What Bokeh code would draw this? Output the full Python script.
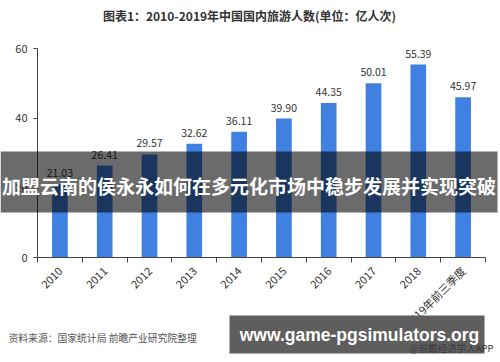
import math
from bokeh.plotting import figure
from bokeh.models import (Range1d, FixedTicker, ColumnDataSource, LabelSet, Label,
                          BoxAnnotation)
from bokeh.core.properties import value
from bokeh.embed import file_html
from bokeh.resources import INLINE

# ---- data ----
categories = ["2010", "2011", "2012", "2013", "2014", "2015", "2016", "2017", "2018", "2019年前三季度"]
values = [21.03, 26.41, 29.57, 32.62, 36.11, 39.90, 44.35, 50.01, 55.39, 45.97]
y_ticks = [0, 20, 40, 60]
title_text = "图表1：2010-2019年中国国内旅游人数(单位：亿人次)"
banner_text = "加盟云南的侯永永如何在多元化市场中稳步发展并实现突破"
source_text = "资料来源：国家统计局 前瞻产业研究院整理"
site_text = "www.game-pgsimulators.org"
mark_text = "@前瞻经济学人APP"

# ---- layout (plot area in pixels) ----
W, H = 500, 362
L, R, T, B = 37, 15, 48, 105
FW, FH = W - L - R, H - T - B
N = len(categories)
YMAX = 60

def fx(px):
    return 0.5 + (px - L) * N / FW

def fy(py):
    return (H - B - py) * YMAX / FH

CJK = "Noto Sans CJK SC"

xs = list(range(1, N + 1))
src = ColumnDataSource(dict(x=xs, v=values, lbl=["%.2f" % v for v in values]))

p = figure(width=W, height=H, x_range=Range1d(fx(0), fx(W)), y_range=Range1d(fy(H), fy(0)),
           output_backend="svg", toolbar_location=None,
           min_border_left=0, min_border_right=0, min_border_top=0, min_border_bottom=0)
p.outline_line_color = None
p.grid.visible = False
p.background_fill_color = "white"
p.border_fill_color = "white"

p.vbar(x="x", top="v", width=0.35, source=src, fill_color="#3f80e0", line_color=None)

p.add_layout(LabelSet(x="x", y="v", text="lbl", source=src, text_align="center",
                      text_baseline="bottom", y_offset=7, text_font=value(CJK),
                      text_font_size="10.5px", text_color="#333333"))

# axes (placed at fixed positions inside the canvas)
xa = p.xaxis[0]
xa.fixed_location = 0
xa.bounds = (0.5, N + 0.5)
xa.ticker = FixedTicker(ticks=xs, minor_ticks=[i + 0.5 for i in range(0, N + 1)])
xa.major_label_overrides = {x: c for x, c in zip(xs, categories)}
xa.major_tick_out = 0
xa.major_tick_in = 0
xa.minor_tick_out = 5
xa.minor_tick_in = 0
xa.minor_tick_line_color = "#444444"
xa.axis_line_color = "#444444"
xa.major_label_orientation = math.pi / 4
xa.major_label_text_font = CJK
xa.major_label_text_font_size = "11px"
xa.major_label_text_color = "#333333"
xa.major_label_standoff = 6

ya = p.yaxis[0]
ya.fixed_location = 0.5
ya.bounds = (0, YMAX)
ya.ticker = FixedTicker(ticks=y_ticks)
ya.minor_tick_line_color = None
ya.major_tick_out = 4
ya.major_tick_in = 0
ya.major_tick_line_color = "#444444"
ya.axis_line_color = "#444444"
ya.major_label_text_font = CJK
ya.major_label_text_font_size = "11px"
ya.major_label_text_color = "#333333"
ya.major_label_standoff = 6

# title
p.add_layout(Label(x=fx(249), y=fy(15), text=title_text, text_align="center",
                   text_baseline="middle", text_font=CJK, text_font_size="12px",
                   text_font_style="bold", text_color="#333333"))

# source
p.add_layout(Label(x=fx(8), y=fy(337), text=source_text, text_align="left",
                   text_baseline="middle", text_font=CJK, text_font_size="9.8px",
                   text_color="#555555"))

# overlay banner
p.add_layout(BoxAnnotation(left=fx(0), right=fx(497), top=fy(151), bottom=fy(212),
                           fill_color="black", fill_alpha=0.58, line_color=None,
                           level="overlay"))
p.add_layout(Label(x=fx(248.5), y=fy(185), text=banner_text, text_align="center",
                   text_baseline="middle", text_font=CJK, text_font_size="19px",
                   text_font_style="bold", text_color="white", level="overlay"))

# site box
p.add_layout(BoxAnnotation(left=fx(229), right=fx(484), top=fy(315), bottom=fy(353),
                           fill_color="#5e5e5e", fill_alpha=1, line_color=None,
                           level="overlay"))
p.add_layout(Label(x=fx(359), y=fy(334), text=site_text, text_align="center",
                   text_baseline="middle", text_font="Liberation Sans",
                   text_font_size="17.5px", text_font_style="bold", text_color="white",
                   level="overlay"))
p.add_layout(Label(x=fx(493), y=fy(347), text=mark_text, text_align="right",
                   text_baseline="middle", text_font=CJK, text_font_size="9.5px",
                   text_color="#3a3a3a", level="overlay"))

html = file_html(p, INLINE)
html = html.replace("<head>", "<head><style>html,body{margin:0;padding:0;overflow:hidden;}</style>", 1)
open("out.html", "w").write(html)
